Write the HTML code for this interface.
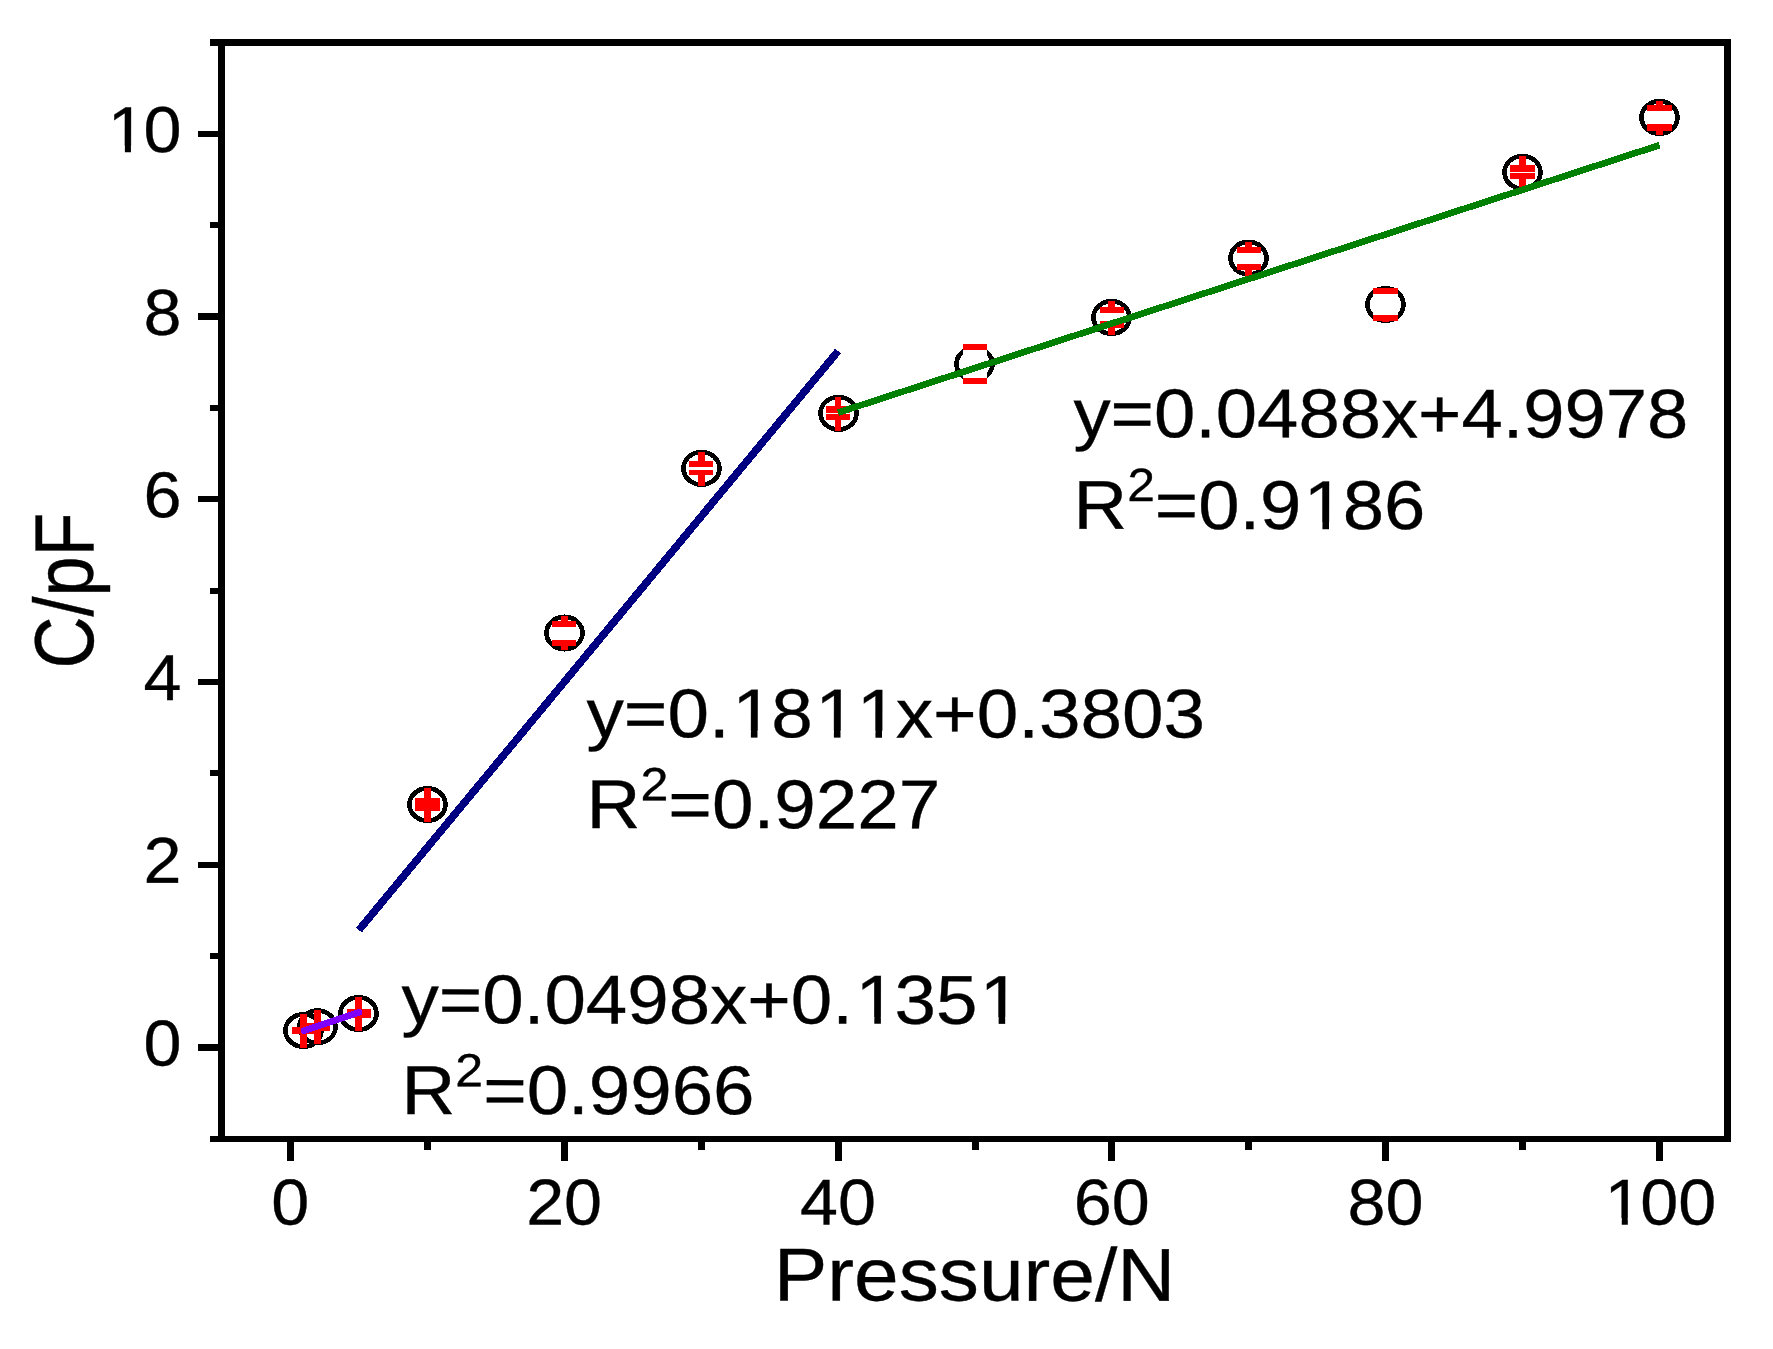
<!DOCTYPE html>
<html lang="en"><head><meta charset="utf-8"><title>C/pF vs Pressure/N</title>
<style>html,body{margin:0;padding:0;background:#fff;}body{width:1773px;height:1349px;overflow:hidden;}svg{display:block;}text{font-family:"Liberation Sans",Arial,Helvetica,sans-serif;fill:#000;stroke:#000;stroke-width:0.35px;font-kerning:none;font-variant-ligatures:none;}</style>
</head><body>
<svg width="1773" height="1349" viewBox="0 0 1773 1349">
<rect x="0" y="0" width="1773" height="1349" fill="#fff"/>
<g shape-rendering="crispEdges">
<rect x="210" y="39" width="1521" height="7" fill="#000"/>
<rect x="210" y="1136" width="1521" height="6" fill="#000"/>
<rect x="218" y="39" width="7" height="1103" fill="#000"/>
<rect x="1724" y="39" width="7" height="1103" fill="#000"/>
<rect x="198" y="1044" width="21" height="7" fill="#000"/>
<rect x="198" y="862" width="21" height="6" fill="#000"/>
<rect x="198" y="679" width="21" height="6" fill="#000"/>
<rect x="198" y="496" width="21" height="6" fill="#000"/>
<rect x="198" y="313" width="21" height="7" fill="#000"/>
<rect x="198" y="131" width="21" height="6" fill="#000"/>
<rect x="210" y="953" width="9" height="6" fill="#000"/>
<rect x="210" y="770" width="9" height="6" fill="#000"/>
<rect x="210" y="588" width="9" height="6" fill="#000"/>
<rect x="210" y="405" width="9" height="6" fill="#000"/>
<rect x="210" y="222" width="9" height="6" fill="#000"/>
<rect x="287" y="1141" width="7" height="20" fill="#000"/>
<rect x="561" y="1141" width="7" height="20" fill="#000"/>
<rect x="835" y="1141" width="7" height="20" fill="#000"/>
<rect x="1108" y="1141" width="7" height="20" fill="#000"/>
<rect x="1382" y="1141" width="7" height="20" fill="#000"/>
<rect x="1656" y="1141" width="7" height="20" fill="#000"/>
<rect x="424" y="1141" width="7" height="9" fill="#000"/>
<rect x="698" y="1141" width="7" height="9" fill="#000"/>
<rect x="972" y="1141" width="7" height="9" fill="#000"/>
<rect x="1245" y="1141" width="7" height="9" fill="#000"/>
<rect x="1519" y="1141" width="7" height="9" fill="#000"/>
</g>
<g transform="translate(290.3,1224.5) rotate(0.04) scale(1.0533,1)"><text font-size="64.8" x="-18.02">0</text></g>
<g transform="translate(564.1,1224.5) rotate(0.04) scale(1.0533,1)"><text font-size="64.8" x="-36.04">20</text></g>
<g transform="translate(837.9,1224.5) rotate(0.04) scale(1.0533,1)"><text font-size="64.8" x="-36.04">40</text></g>
<g transform="translate(1111.7,1224.5) rotate(0.04) scale(1.0533,1)"><text font-size="64.8" x="-36.04">60</text></g>
<g transform="translate(1385.5,1224.5) rotate(0.04) scale(1.0533,1)"><text font-size="64.8" x="-36.04">80</text></g>
<g transform="translate(1659.3,1224.5) rotate(0.04) scale(1.0533,1)"><text font-size="64.8" x="-54.06"><tspan dx="0.033em">1</tspan><tspan dx="-0.033em">0</tspan>0</text><rect x="-48.28" y="-6.17" width="12.66" height="7.59" fill="#fff"/><rect x="-29.90" y="-6.17" width="12.15" height="7.59" fill="#fff"/></g>
<g transform="translate(181.4,1065.5) rotate(0.04) scale(1.0533,1)"><text font-size="64.8" x="-36.04">0</text></g>
<g transform="translate(181.4,882.8) rotate(0.04) scale(1.0533,1)"><text font-size="64.8" x="-36.04">2</text></g>
<g transform="translate(181.4,700.1) rotate(0.04) scale(1.0533,1)"><text font-size="64.8" x="-36.04">4</text></g>
<g transform="translate(181.4,517.4) rotate(0.04) scale(1.0533,1)"><text font-size="64.8" x="-36.04">6</text></g>
<g transform="translate(181.4,334.7) rotate(0.04) scale(1.0533,1)"><text font-size="64.8" x="-36.04">8</text></g>
<g transform="translate(181.4,152) rotate(0.04) scale(1.0533,1)"><text font-size="64.8" x="-72.08"><tspan dx="0.033em">1</tspan><tspan dx="-0.033em">0</tspan></text><rect x="-66.30" y="-6.17" width="12.66" height="7.59" fill="#fff"/><rect x="-47.92" y="-6.17" width="12.15" height="7.59" fill="#fff"/></g>
<text transform="translate(974.5,1300.6) rotate(0.04) scale(1.0715,1)" font-size="74.9" text-anchor="middle">Pressure/N</text>
<text transform="translate(93.4,590.5) scale(1.163,1) rotate(-90)" font-size="72" text-anchor="middle">C/pF</text>
<g fill="none" stroke="#000" stroke-width="4.6" shape-rendering="crispEdges">
<ellipse cx="303.5" cy="1030.5" rx="18" ry="16.25"/>
<ellipse cx="317.5" cy="1026.8" rx="18" ry="16.25"/>
<ellipse cx="358.5" cy="1013.5" rx="18" ry="16.25"/>
<ellipse cx="427.5" cy="804.5" rx="18" ry="16.25"/>
<ellipse cx="564.5" cy="633" rx="18" ry="16.25"/>
<ellipse cx="701.5" cy="468.4" rx="18" ry="16.25"/>
<ellipse cx="838.5" cy="413.3" rx="18" ry="16.25"/>
<ellipse cx="974.5" cy="364" rx="18" ry="16.25"/>
<ellipse cx="1111.5" cy="317.45" rx="18" ry="16.25"/>
<ellipse cx="1248.5" cy="258.1" rx="18" ry="16.25"/>
<ellipse cx="1385.5" cy="304.5" rx="18" ry="16.25"/>
<ellipse cx="1522.5" cy="172.35" rx="18" ry="16.25"/>
<ellipse cx="1659.5" cy="117.45" rx="18" ry="16.25"/>
</g>
<g shape-rendering="crispEdges">
<rect x="300" y="1014" width="7" height="34" fill="#f00"/>
<rect x="292" y="1027" width="24" height="4" fill="#f00"/>
<rect x="292" y="1030" width="24" height="4" fill="#f00"/>
<rect x="314" y="1010" width="7" height="34" fill="#f00"/>
<rect x="306" y="1023" width="24" height="4" fill="#f00"/>
<rect x="306" y="1027" width="24" height="4" fill="#f00"/>
<rect x="355" y="997" width="7" height="34" fill="#f00"/>
<rect x="347" y="1009" width="24" height="5" fill="#f00"/>
<rect x="347" y="1013" width="24" height="5" fill="#f00"/>
<rect x="424" y="788" width="7" height="34" fill="#f00"/>
<rect x="415" y="798" width="25" height="7" fill="#f00"/>
<rect x="415" y="804" width="25" height="7" fill="#f00"/>
<rect x="561" y="616" width="7" height="34" fill="#f00"/>
<rect x="552" y="627" width="24" height="13" fill="#fff"/>
<rect x="552" y="621" width="24" height="6" fill="#f00"/>
<rect x="552" y="640" width="24" height="6" fill="#f00"/>
<rect x="698" y="452" width="7" height="34" fill="#f00"/>
<rect x="689" y="467" width="24" height="3" fill="#fff"/>
<rect x="689" y="461" width="24" height="6" fill="#f00"/>
<rect x="689" y="470" width="24" height="5" fill="#f00"/>
<rect x="835" y="397" width="6" height="34" fill="#f00"/>
<rect x="826" y="413" width="24" height="1" fill="#fff"/>
<rect x="826" y="406" width="24" height="7" fill="#f00"/>
<rect x="826" y="414" width="24" height="6" fill="#f00"/>
<rect x="971" y="344" width="7" height="40" fill="#f00"/>
<rect x="963" y="350" width="24" height="28" fill="#fff"/>
<rect x="963" y="344" width="24" height="6" fill="#f00"/>
<rect x="963" y="378" width="24" height="6" fill="#f00"/>
<rect x="1108" y="301" width="7" height="34" fill="#f00"/>
<rect x="1100" y="313" width="24" height="8" fill="#fff"/>
<rect x="1100" y="307" width="24" height="6" fill="#f00"/>
<rect x="1100" y="321" width="24" height="7" fill="#f00"/>
<rect x="1245" y="242" width="7" height="34" fill="#f00"/>
<rect x="1237" y="253" width="24" height="11" fill="#fff"/>
<rect x="1237" y="247" width="24" height="6" fill="#f00"/>
<rect x="1237" y="264" width="24" height="6" fill="#f00"/>
<rect x="1382" y="288" width="7" height="34" fill="#f00"/>
<rect x="1373" y="294" width="25" height="21" fill="#fff"/>
<rect x="1373" y="288" width="25" height="6" fill="#f00"/>
<rect x="1373" y="315" width="25" height="6" fill="#f00"/>
<rect x="1519" y="156" width="7" height="34" fill="#f00"/>
<rect x="1510" y="172" width="25" height="1" fill="#fff"/>
<rect x="1510" y="165" width="25" height="7" fill="#f00"/>
<rect x="1510" y="173" width="25" height="6" fill="#f00"/>
<rect x="1656" y="101" width="7" height="34" fill="#f00"/>
<rect x="1647" y="111" width="25" height="13" fill="#fff"/>
<rect x="1647" y="105" width="25" height="6" fill="#f00"/>
<rect x="1647" y="124" width="25" height="7" fill="#f00"/>
</g>
<line x1="304.19" y1="1030.61" x2="358.95" y2="1012.41" stroke="#8000ff" stroke-width="6.8" stroke-linecap="round" shape-rendering="crispEdges"/>
<line x1="358.95" y1="930.04" x2="838.10" y2="351.02" stroke="#000080" stroke-width="7.6" stroke-linecap="butt" shape-rendering="crispEdges"/>
<line x1="838.10" y1="412.64" x2="1659.50" y2="145.16" stroke="#008000" stroke-width="6.6" stroke-linecap="butt" shape-rendering="crispEdges"/>
<g transform="translate(1073.5,437.2) rotate(0.04) scale(1.0725,1)"><text font-size="69.2">y=0.0488x+4.9978</text></g>
<g transform="translate(1073.5,528.8) rotate(0.04) scale(1.0725,1)"><text font-size="69.2">R<tspan dy="-27.8" font-size="46.5024">2</tspan><tspan dy="27.8">=0.9<tspan dx="0.033em">1</tspan><tspan dx="-0.033em">8</tspan>6</tspan></text><rect x="218.61" y="-6.59" width="13.52" height="8.11" fill="#fff"/><rect x="238.24" y="-6.59" width="12.98" height="8.11" fill="#fff"/></g>
<g transform="translate(586.5,737.2) rotate(0.04) scale(1.0786,1)"><text font-size="69.2">y=0.<tspan dx="0.033em">1</tspan><tspan dx="-0.033em">8</tspan><tspan dx="0.033em">1</tspan><tspan dx="0.000em">1</tspan><tspan dx="-0.033em">x</tspan>+0.3803</text><rect x="138.89" y="-6.59" width="13.52" height="8.11" fill="#fff"/><rect x="158.52" y="-6.59" width="12.98" height="8.11" fill="#fff"/><rect x="215.86" y="-6.59" width="13.52" height="8.11" fill="#fff"/><rect x="235.49" y="-6.59" width="12.98" height="8.11" fill="#fff"/><rect x="254.35" y="-6.59" width="13.52" height="8.11" fill="#fff"/><rect x="273.98" y="-6.59" width="12.98" height="8.11" fill="#fff"/></g>
<g transform="translate(586.5,828) rotate(0.04) scale(1.0786,1)"><text font-size="69.2">R<tspan dy="-27.8" font-size="46.5024">2</tspan><tspan dy="27.8">=0.9227</tspan></text></g>
<g transform="translate(401.5,1023.3) rotate(0.04) scale(1.0768,1)"><text font-size="69.2">y=0.0498x+0.<tspan dx="0.033em">1</tspan><tspan dx="-0.033em">3</tspan>5<tspan dx="0.033em">1</tspan></text><rect x="425.56" y="-6.59" width="13.52" height="8.11" fill="#fff"/><rect x="445.19" y="-6.59" width="12.98" height="8.11" fill="#fff"/><rect x="541.01" y="-6.59" width="13.52" height="8.11" fill="#fff"/><rect x="560.65" y="-6.59" width="12.98" height="8.11" fill="#fff"/></g>
<g transform="translate(401.5,1114) rotate(0.04) scale(1.0768,1)"><text font-size="69.2">R<tspan dy="-27.8" font-size="46.5024">2</tspan><tspan dy="27.8">=0.9966</tspan></text></g>
</svg>
</body></html>
